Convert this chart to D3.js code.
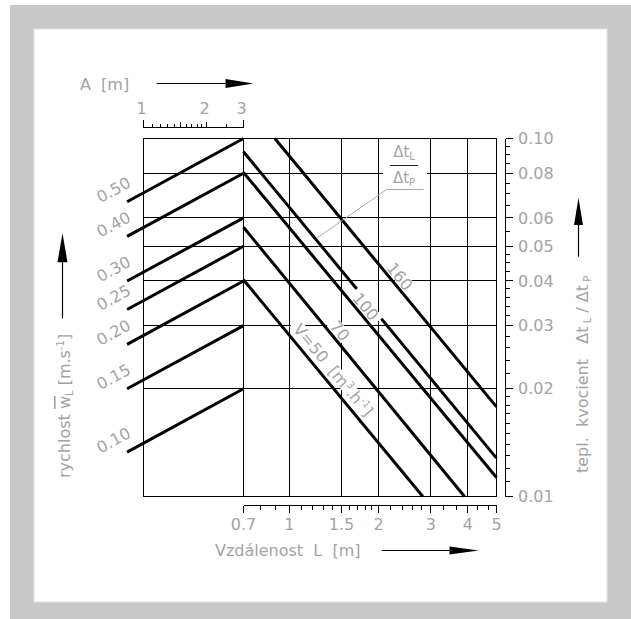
<!DOCTYPE html>
<html><head><meta charset="utf-8">
<script src="https://cdn.jsdelivr.net/npm/d3@7"></script>
<style>
body{margin:0;background:#fff;}
svg{display:block;}
text{font-family:"DejaVu Sans",sans-serif;fill:#a3a3a3;white-space:pre;}
</style></head><body>
<script>
// ---------- data ----------
const lengthTicks = [0.7, 1, 1.5, 2, 3, 4, 5];
const lengthTickLabels = ["0.7", "1", "1.5", "2", "3", "4", "5"];
const lengthMinorTicks = [0.8, 0.9, 1.1, 1.2, 1.3, 1.4, 1.6, 1.7, 1.8, 1.9, 2.2, 2.4, 2.6, 2.8, 3.3, 3.65, 4.3, 4.7];
const lengthGrid = [1, 1.5, 2, 3, 4];
const spanTicks = [1, 2, 3];
const spanTickLabels = ["1", "2", "3"];
const spanMidTicks = [1.5, 2];
const spanMinorTicks = [1.1, 1.2, 1.3, 1.4, 1.6, 1.7, 1.8, 1.9, 2.5];
const ratioTicks = [0.10, 0.08, 0.06, 0.05, 0.04, 0.03, 0.02, 0.01];
const ratioTickLabels = ["0.10", "0.08", "0.06", "0.05", "0.04", "0.03", "0.02", "0.01"];
const ratioMinorTicks = [0.011, 0.012, 0.013, 0.014, 0.015, 0.016, 0.017, 0.018, 0.019, 0.022, 0.024, 0.026, 0.028, 0.032, 0.034, 0.036, 0.038, 0.0425, 0.045, 0.0475, 0.055, 0.065, 0.07, 0.075, 0.085, 0.09, 0.095];
const ratioGrid = [0.08, 0.06, 0.05, 0.04, 0.03, 0.02];
// left family: air velocity w_L, from span A start to A = 3
const velocityLabels = ["0.50", "0.40", "0.30", "0.25", "0.20", "0.15", "0.10"];
const velocityStartA = [0.835, 0.835, 0.835, 0.835, 0.835, 0.835, 0.835];
const velocityStartRatio = [0.0666, 0.0533, 0.040, 0.0333, 0.0266, 0.020, 0.0133];
const velocityEndA = [3, 3, 3, 3, 3, 3, 3];
const velocityEndRatio = [0.10, 0.08, 0.06, 0.05, 0.04, 0.03, 0.02];
// right family: air flow V, along distance L
const flowLabels = ["160", "", "100", "70", "V=50"];
const flowStartL = [0.893, 0.7, 0.7, 0.7, 0.7];
const flowStartRatio = [0.10, 0.0918, 0.0804, 0.0565, 0.0403];
const flowEndL = [5, 5, 5, 3.9, 2.82];
const flowEndRatio = [0.0178, 0.0128, 0.0113, 0.010, 0.010];
const flowLabelAtL = [2.24, null, 1.72, 1.405, 1.311];
const flowLabelOffset = [8.6, 0, 8.5, 8.9, 11.8];

// ---------- layout ----------
const W = 631, H = 619;
const svg = d3.select("body").append("svg").attr("width", W).attr("height", H);
svg.append("rect").attr("x", 10).attr("y", 5).attr("width", W - 10).attr("height", H - 5).attr("fill", "#c8c8c8");
svg.append("rect").attr("x", 34).attr("y", 29).attr("width", 573).attr("height", 573).attr("fill", "#fff").attr("stroke", "#e2e2e2");

const P = {left: 143.5, split: 243.5, right: 496.5, top: 138.5, bottom: 496.5};
const x = d3.scaleLog().domain([0.7, 5]).range([P.split, P.right]);
const xa = d3.scaleLog().domain([1, 3]).range([P.left, P.split]);
const y = d3.scaleLog().domain([0.01, 0.1]).range([P.bottom, P.top]);
const cr = v => Math.round(v - 0.5) + 0.5;

// ---------- grid ----------
const grid = svg.append("g").attr("stroke", "#000").attr("stroke-width", 1).attr("shape-rendering", "crispEdges");
grid.selectAll("line.h").data(ratioGrid).join("line")
  .attr("x1", P.left).attr("x2", P.right).attr("y1", d => cr(y(d))).attr("y2", d => cr(y(d)));
grid.selectAll("line.v").data(lengthGrid).join("line").attr("class", "v")
  .attr("y1", P.top).attr("y2", P.bottom).attr("x1", d => cr(x(d))).attr("x2", d => cr(x(d)));
grid.append("line").attr("x1", P.split).attr("x2", P.split).attr("y1", P.top).attr("y2", P.bottom);
grid.append("rect").attr("x", P.left).attr("y", P.top).attr("width", P.right - P.left).attr("height", P.bottom - P.top).attr("fill", "none");

// ---------- thick lines ----------
const thick = svg.append("g").attr("stroke", "#000").attr("stroke-width", 3).attr("fill", "none");
const velPts = velocityLabels.map((l, i) => [[xa(velocityStartA[i]), y(velocityStartRatio[i])], [xa(velocityEndA[i]), y(velocityEndRatio[i])]]);
const flowPts = flowLabels.map((l, i) => [[x(flowStartL[i]), y(flowStartRatio[i])], [x(flowEndL[i]), y(flowEndRatio[i])]]);
thick.selectAll("path.vel").data(velPts).join("path").attr("class", "vel").attr("d", d3.line());
thick.selectAll("path.flow").data(flowPts).join("path").attr("class", "flow").attr("d", d3.line());

// ---------- velocity labels ----------
velocityLabels.forEach((lab, i) => {
  const [p1, p2] = velPts[i];
  const ang = Math.atan2(p2[1] - p1[1], p2[0] - p1[0]) * 180 / Math.PI;
  svg.append("text").attr("transform", `translate(${p1[0] - 26.5},${p1[1] + 1.5}) rotate(${ang})`)
    .attr("font-size", 16).text(lab);
});

// ---------- flow labels with knockout ----------
flowLabels.forEach((lab, i) => {
  if (!lab) return;
  const [p1, p2] = flowPts[i];
  const th = Math.atan2(p2[1] - p1[1], p2[0] - p1[0]);
  const t = (x(flowLabelAtL[i]) - p1[0]) / (p2[0] - p1[0]);
  const fx = p1[0] + t * (p2[0] - p1[0]), fy = p1[1] + t * (p2[1] - p1[1]);
  const off = flowLabelOffset[i];
  const cx = fx + off * Math.sin(th), cy = fy - off * Math.cos(th);
  const g = svg.append("g").attr("transform", `translate(${cx},${cy}) rotate(${th * 180 / Math.PI})`);
  const bg = g.append("rect").attr("fill", "#fff");
  const tx = g.append("text").attr("font-size", 16).attr("text-anchor", "middle").attr("dy", "0.36em");
  if (lab === "V=50") {
    tx.append("tspan").text("V=50  [m");
    tx.append("tspan").attr("font-size", 10).attr("dy", -6).text("3");
    tx.append("tspan").attr("dy", 6).text(".h");
    tx.append("tspan").attr("font-size", 10).attr("dy", -6).text("-1");
    tx.append("tspan").attr("dy", 6).text("]");
  } else {
    tx.text(lab);
  }
  const w = tx.node().getComputedTextLength();
  bg.attr("x", -w / 2 - 4).attr("y", -6.5).attr("width", w + 8).attr("height", 13);
});

// ---------- fraction label ----------
svg.append("rect").attr("x", 383).attr("y", 143).attr("width", 44).attr("height", 44).attr("fill", "#fff");
const fr1 = svg.append("text").attr("x", 404).attr("y", 157).attr("font-size", 15).attr("text-anchor", "middle");
fr1.append("tspan").text("Δt");
fr1.append("tspan").attr("font-size", 10).attr("dy", 3).text("L");
const fr2 = svg.append("text").attr("x", 404).attr("y", 183).attr("font-size", 15).attr("text-anchor", "middle");
fr2.append("tspan").text("Δt");
fr2.append("tspan").attr("font-size", 10).attr("dy", 3).text("P");
svg.append("line").attr("x1", 390).attr("x2", 418).attr("y1", 165.5).attr("y2", 165.5).attr("stroke", "#222");
svg.append("path").attr("d", "M423.5,189.5H386.5L316.7,238.3").attr("fill", "none").attr("stroke", "#aaa");

// ---------- top axis (A) ----------
const ta = svg.append("g").attr("stroke", "#000").attr("shape-rendering", "crispEdges");
const ty = 127.5;
ta.append("line").attr("x1", P.left).attr("x2", P.split).attr("y1", ty).attr("y2", ty);
ta.selectAll("line.maj").data(spanTicks).join("line").attr("class", "maj")
  .attr("x1", d => cr(xa(d))).attr("x2", d => cr(xa(d))).attr("y1", ty).attr("y2", d => d === 2 ? ty - 6 : ty - 8);
ta.selectAll("line.mid").data(spanMidTicks).join("line").attr("class", "mid")
  .attr("x1", d => cr(xa(d))).attr("x2", d => cr(xa(d))).attr("y1", ty).attr("y2", ty - 6);
ta.selectAll("line.min").data(spanMinorTicks).join("line").attr("class", "min")
  .attr("x1", d => cr(xa(d))).attr("x2", d => cr(xa(d))).attr("y1", ty).attr("y2", ty - 4);
svg.selectAll("text.ta").data(spanTicks).join("text").attr("class", "ta")
  .attr("x", d => xa(d) - 2).attr("y", 114).attr("font-size", 16).attr("text-anchor", "middle")
  .text((d, i) => spanTickLabels[i]);

// ---------- bottom axis (L) ----------
const ba = svg.append("g").attr("stroke", "#000").attr("shape-rendering", "crispEdges");
const by = 505.5;
ba.append("line").attr("x1", P.split).attr("x2", P.right).attr("y1", by).attr("y2", by);
ba.selectAll("line.maj").data(lengthTicks).join("line").attr("class", "maj")
  .attr("x1", d => cr(x(d))).attr("x2", d => cr(x(d))).attr("y1", by).attr("y2", by + 7);
ba.selectAll("line.min").data(lengthMinorTicks).join("line").attr("class", "min")
  .attr("x1", d => cr(x(d))).attr("x2", d => cr(x(d))).attr("y1", by).attr("y2", by + 4);
svg.selectAll("text.ba").data(lengthTicks).join("text").attr("class", "ba")
  .attr("x", d => x(d)).attr("y", 530).attr("font-size", 16).attr("text-anchor", "middle")
  .text((d, i) => lengthTickLabels[i]);

// ---------- right axis (ratio) ----------
const ra = svg.append("g").attr("stroke", "#000").attr("shape-rendering", "crispEdges");
const rx = 505.5;
ra.append("line").attr("x1", rx).attr("x2", rx).attr("y1", P.top).attr("y2", P.bottom);
ra.selectAll("line.maj").data(ratioTicks).join("line").attr("class", "maj")
  .attr("y1", d => cr(y(d))).attr("y2", d => cr(y(d))).attr("x1", rx).attr("x2", rx + 7);
ra.selectAll("line.min").data(ratioMinorTicks).join("line").attr("class", "min")
  .attr("y1", d => cr(y(d))).attr("y2", d => cr(y(d))).attr("x1", rx).attr("x2", rx + 4.5);
svg.selectAll("text.ra").data(ratioTicks).join("text").attr("class", "ra")
  .attr("x", 518).attr("y", d => y(d)).attr("dy", "0.36em").attr("font-size", 16)
  .text((d, i) => ratioTickLabels[i]);

// ---------- titles and arrows ----------
svg.append("text").attr("x", 80).attr("y", 90).attr("font-size", 16).text("A  [m]");
svg.append("text").attr("x", 215).attr("y", 556).attr("font-size", 16).text("Vzdálenost  L  [m]");

const lt = svg.append("text").attr("transform", "translate(70,478) rotate(-90)").attr("font-size", 16);
lt.append("tspan").text("rychlost ");
lt.append("tspan").style("text-decoration", "overline").text("w");
lt.append("tspan").attr("font-size", 10).attr("dy", 3).text("L");
lt.append("tspan").attr("dy", -3).text(" [m.s");
lt.append("tspan").attr("font-size", 10).attr("dy", -6).text("-1");
lt.append("tspan").attr("dy", 6).text("]");

const rt = svg.append("text").attr("transform", "translate(588,473) rotate(-90)").attr("font-size", 16);
rt.append("tspan").text("tepl.  kvocient   Δt");
rt.append("tspan").attr("font-size", 10).attr("dy", 3).text(" L");
rt.append("tspan").attr("dy", -3).text(" / Δt");
rt.append("tspan").attr("font-size", 10).attr("dy", 3).text(" P");

const arrows = svg.append("g");
function arrow(x1, y1, x2, y2, headLen, headHalf) {
  const dx = x2 - x1, dy = y2 - y1, len = Math.hypot(dx, dy), ux = dx / len, uy = dy / len;
  const bx = x2 - ux * headLen, byy = y2 - uy * headLen;
  arrows.append("line").attr("x1", x1).attr("y1", y1).attr("x2", bx).attr("y2", byy).attr("stroke", "#000").attr("stroke-width", 1.2);
  arrows.append("path").attr("d", `M${x2},${y2}L${bx - uy * headHalf},${byy + ux * headHalf}L${bx + uy * headHalf},${byy - ux * headHalf}Z`).attr("fill", "#000");
}
arrow(156.7, 83.5, 253.5, 83.5, 28, 4.5);
arrow(381.7, 550.5, 478.5, 550.5, 29, 4);
arrow(62.5, 318.3, 62.5, 233.3, 29, 5);
arrow(578.5, 256.7, 578.5, 198, 27, 4.5);
</script>
</body></html>
